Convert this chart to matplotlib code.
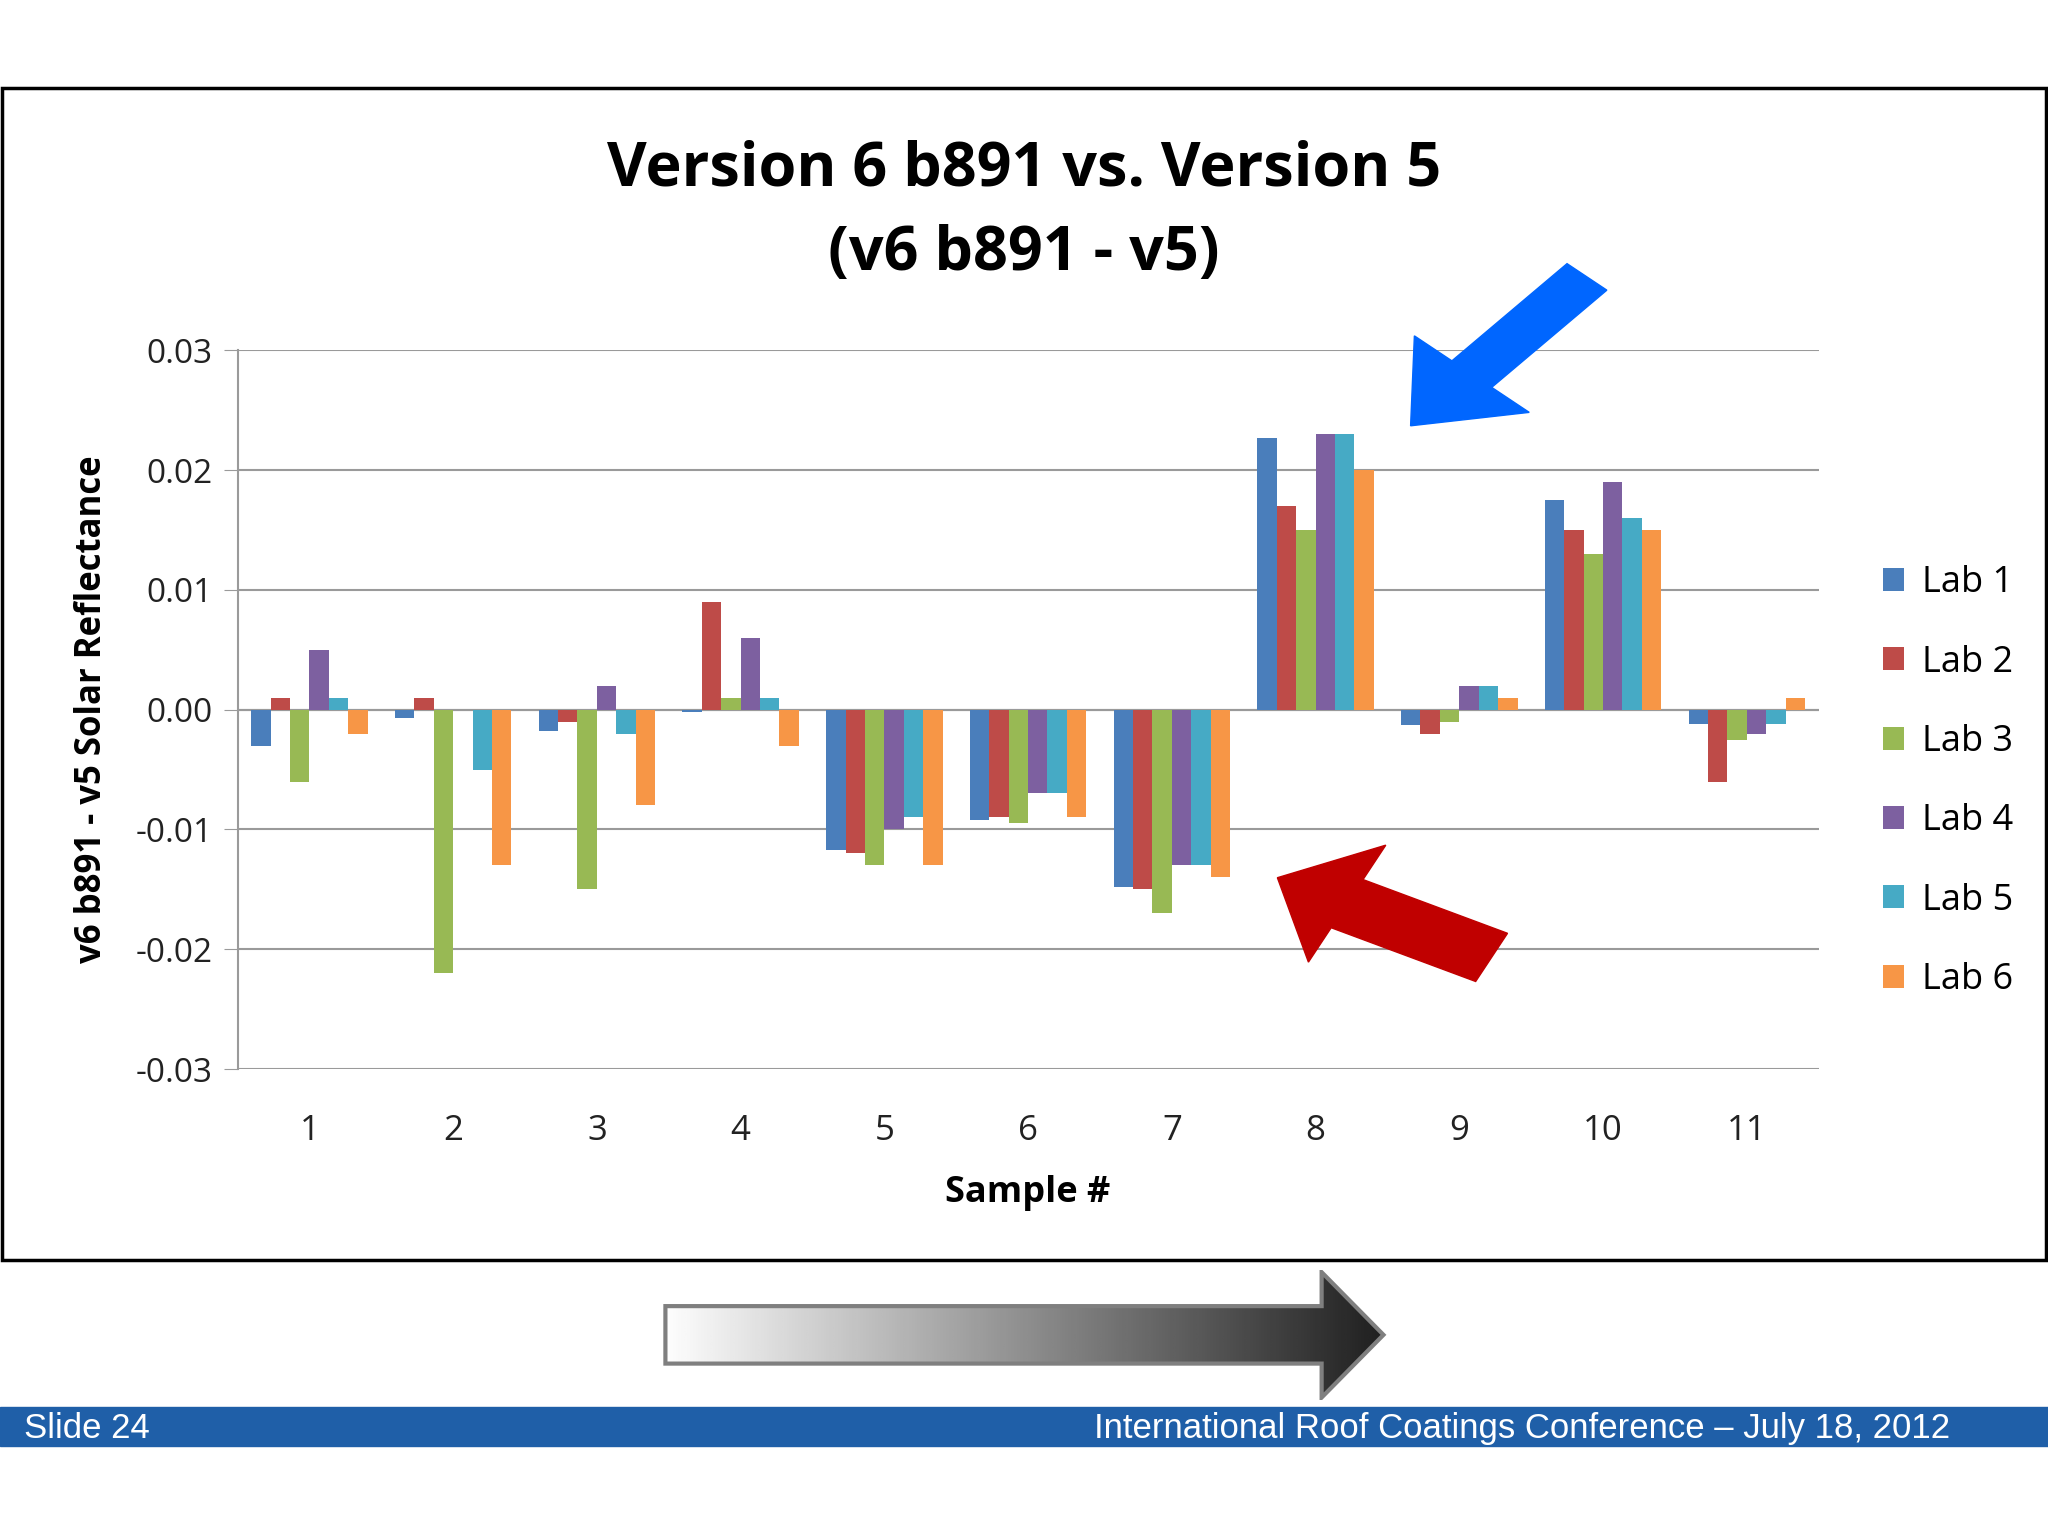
import numpy as np
import matplotlib
matplotlib.use("Agg")
from matplotlib import pyplot as plt
from matplotlib.patches import Polygon, Rectangle, FancyArrow

samples = ["1", "2", "3", "4", "5", "6", "7", "8", "9", "10", "11"]
labs = ["Lab 1", "Lab 2", "Lab 3", "Lab 4", "Lab 5", "Lab 6"]
lab1 = [-0.003, -0.0007, -0.0018, -0.0002, -0.0117, -0.0092, -0.0148, 0.0227, -0.0013, 0.0175, -0.0012]
lab2 = [0.001, 0.001, -0.001, 0.009, -0.012, -0.009, -0.015, 0.017, -0.002, 0.015, -0.006]
lab3 = [-0.006, -0.022, -0.015, 0.001, -0.013, -0.0095, -0.017, 0.015, -0.001, 0.013, -0.0025]
lab4 = [0.005, 0.0, 0.002, 0.006, -0.010, -0.007, -0.013, 0.023, 0.002, 0.019, -0.002]
lab5 = [0.001, -0.005, -0.002, 0.001, -0.009, -0.007, -0.013, 0.023, 0.002, 0.016, -0.0012]
lab6 = [-0.002, -0.013, -0.008, -0.003, -0.013, -0.009, -0.014, 0.020, 0.001, 0.015, 0.001]
series = [lab1, lab2, lab3, lab4, lab5, lab6]
colors = ["#4a7ebb", "#be4b48", "#98b954", "#7d60a0", "#46aac5", "#f79646"]

plt.rcParams["font.family"] = ["Open Sans", "DejaVu Sans"]
fig = plt.figure(figsize=(20.48, 15.36), dpi=100)

# slide frame
fig.patches.append(Rectangle((0.001, 1 - 965 / 1176), 0.998, (965 - 67) / 1176,
                             transform=fig.transFigure, fill=False, lw=2.5, ec="black"))

ax = fig.add_axes([0.116, 0.304, 0.772, 0.468])
x = np.arange(len(samples))
w = 0.135
for i, (vals, c, lab) in enumerate(zip(series, colors, labs)):
    ax.bar(x + (i - 2.5) * w, vals, w, color=c, label=lab, zorder=3)
ax.set_ylim(-0.03, 0.03)
ax.set_xlim(-0.5, len(samples) - 0.5)
ax.set_yticks(np.arange(-0.03, 0.031, 0.01))
ax.set_yticklabels([f"{v:.2f}" for v in np.arange(-0.03, 0.031, 0.01)])
ax.set_xticks(x)
ax.set_xticklabels(samples)
ax.yaxis.grid(True, color="#9a9a9a", lw=1.5, zorder=0)
ax.axhline(0, color="#9a9a9a", lw=1.5, zorder=2)
for s in ["top", "right", "bottom"]:
    ax.spines[s].set_visible(False)
ax.spines["left"].set_color("#9a9a9a")
ax.spines["left"].set_linewidth(1.5)
ax.tick_params(axis="x", length=0, labelsize=25, colors="#222222", pad=32)
ax.tick_params(axis="y", length=10, color="#9a9a9a", direction="out", pad=8,
               labelsize=24, labelcolor="#222222")
ax.set_xlabel("Sample #", fontsize=26, fontweight="bold", labelpad=20)
ax.set_ylabel("v6 b891 - v5 Solar Reflectance", fontsize=25, fontweight="bold", labelpad=18)
ax.legend(loc="center left", bbox_to_anchor=(1.02, 0.40), frameon=False, fontsize=26,
          handlelength=0.6, handleheight=0.6, labelspacing=1.2, handletextpad=0.5)

fig.text(0.5, 0.889, "Version 6 b891 vs. Version 5", ha="center", va="center",
         fontsize=44, fontweight="bold")
fig.text(0.5, 0.834, "(v6 b891 - v5)", ha="center", va="center", fontsize=44, fontweight="bold")


def fx(px):
    return px / 1568


def fy(py):
    return 1 - py / 1176


# blue and red arrows
fig.patches.append(FancyArrow(fx(1215), fy(212), fx(1080) - fx(1215), fy(326) - fy(212),
                              width=0.026, head_width=0.075, head_length=0.045,
                              length_includes_head=True, color="#0066ff",
                              transform=fig.transFigure))
fig.patches.append(FancyArrow(fx(1142), fy(733), fx(978) - fx(1142), fy(672) - fy(733),
                              width=0.035, head_width=0.085, head_length=0.038,
                              length_includes_head=True, color="#c00000",
                              transform=fig.transFigure))

# gradient arrow
gx = fig.add_axes([fx(505), fy(1072), fx(1062) - fx(505), fy(972) - fy(1072)])
gx.set_xlim(0, 1)
gx.set_ylim(0, 1)
gx.axis("off")
grad = np.linspace(1, 0.12, 256).reshape(1, -1)
im = gx.imshow(grad, cmap="gray", vmin=0, vmax=1, aspect="auto", extent=[0, 1, 0, 1])
verts = [(0.008, 0.28), (0.91, 0.28), (0.91, 0.02), (0.995, 0.5), (0.91, 0.98),
         (0.91, 0.72), (0.008, 0.72)]
poly = Polygon(verts, closed=True, fill=False, ec="#7f7f7f", lw=3)
gx.add_patch(poly)
im.set_clip_path(poly)

# footer band
fig.patches.append(Rectangle((0, fy(1107)), 1, (1107 - 1077) / 1176, transform=fig.transFigure,
                             color="#1f5fa8"))
fig.text(fx(18), fy(1094), "Slide 24", color="white", fontsize=25,
         family=["Liberation Sans", "DejaVu Sans"], va="center")
fig.text(fx(1493), fy(1094), "International Roof Coatings Conference \u2013 July 18, 2012",
         color="white", fontsize=25, family=["Liberation Sans", "DejaVu Sans"],
         va="center", ha="right")

fig.savefig("out.png", dpi=100)
